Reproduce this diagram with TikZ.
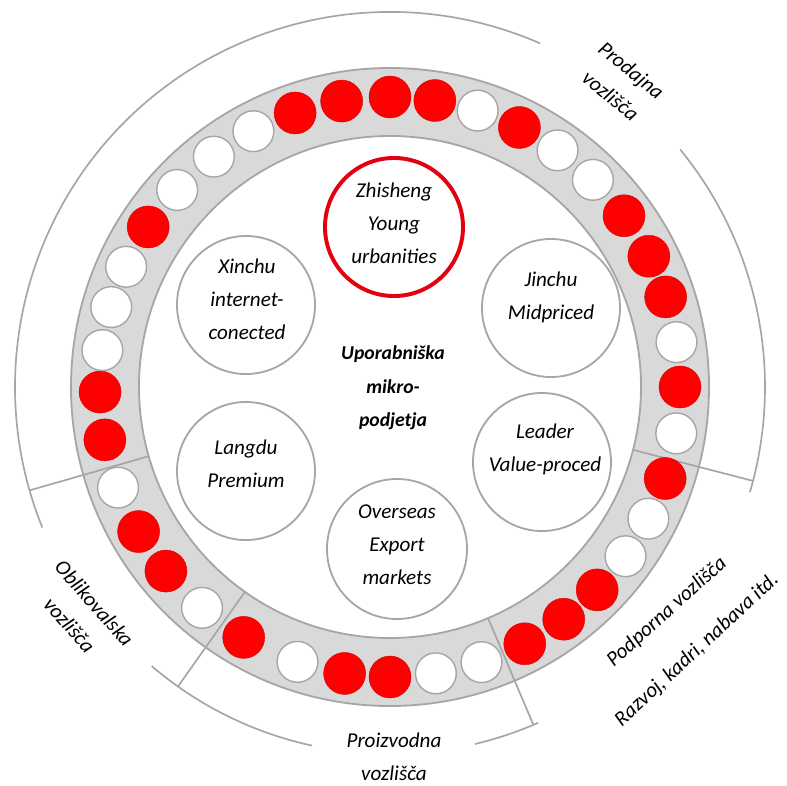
\documentclass[tikz,border=0pt]{standalone}
\usepackage{fontspec}
\setmainfont{Carlito}
\definecolor{ringfill}{HTML}{D9D9D9}
\definecolor{ringline}{HTML}{A6A6A6}
\definecolor{dotred}{HTML}{FF0000}
\definecolor{unitred}{HTML}{E3000F}
\newcommand{\hand}{\itshape\fontsize{15}{23.5}\selectfont}

\begin{document}
\begin{tikzpicture}[x=0.025cm,y=0.025cm,
   seg/.style={draw=ringline,line width=1.2pt},
   unit/.style={circle,draw=ringline,line width=1.3pt,minimum size=3.45cm,inner sep=0pt},
   dotr/.style={circle,fill=dotred,draw=dotred!85!black,line width=0.3pt,minimum size=1.05cm,inner sep=0pt},
   dotw/.style={circle,fill=white,draw=ringline,line width=1pt,minimum size=1.02cm,inner sep=0pt},
   lbl/.style={align=center,font=\hand}]
   \def\ri{251} \def\ro{319} \def\rd{290} \def\ra{375} \def\rb{367}
   \useasboundingbox (-390,-398) rectangle (397,387);
   \filldraw[fill=ringfill,draw=ringline,line width=1.3pt,even odd rule]
    (0,0) circle (\ro) (0,0) circle (\ri);
   \draw[seg] (66.4:\ra) arc (66.4:202:\ra);
   \draw[seg] (39.3:\ra) arc (39.3:-16.3:\ra);
   \draw[seg] (-130.5:\rb) arc (-130.5:-102.3:\rb);
   \draw[seg] (-76.6:\rb) arc (-76.6:-66.2:\rb);
   \foreach \a/\r in {-14.5/\ra,-164/\ra,-67/\rb,-125.3/\rb}
     \draw[seg] (\a:\ri) -- (\a:\r);
   \foreach \a [count=\i] in {90,81.1,63.5,36.2,26.8,18.1,0,-18.4,-44.4,-53.2,-62.3,
      -90,-99,-120.3,-140.6,-150.1,-169.5,-179,146.5,109.1,99.6}
     \node[dotr] (red\i) at (\a:\rd) {};
   \foreach \a [count=\i] in {72.4,54.7,45.6,8.9,-9.2,-27,-35.7,-71.6,-80.9,-108.6,
      -130.4,-159.7,172.7,164,155.5,137.2,127.4,118.1}
     \node[dotw] (white\i) at (\a:\rd) {};
   \node[unit,draw=unitred,line width=2.8pt] (zhisheng) at (4,160) {};
   \node[unit] (xinchu) at (-144,82) {};
   \node[unit] (jinchu) at (161,79) {};
   \node[unit] (langdu) at (-144,-84) {};
   \node[unit] (leader) at (152,-75) {};
   \node[unit,minimum size=3.5cm] (overseas) at (7,-162) {};
   \node[lbl] (zhishengtxt) at (4,164) {Zhisheng\\Young\\urbanities};
   \node[lbl] (xinchutxt) at (-143,88) {Xinchu\\internet-\\conected};
   \node[lbl] (jinchutxt) at (161,90) {Jinchu\\Midpriced};
   \node[lbl] (langdutxt) at (-144,-77) {Langdu\\Premium};
   \node[lbl] (leadertxt) at (155,-62) {Leader\\Value-proced};
   \node[lbl] (overseastxt) at (7,-158) {Overseas\\Export\\markets};
   \node[lbl,font=\bfseries\itshape\fontsize{14}{23.8}\selectfont] (core) at (3,-1)
    {Uporabniška\\mikro-\\podjetja};
   \node[lbl,rotate=-39] (prodajna) at (231,304) {Prodajna\\vozlišča};
   \node[lbl,rotate=-48.5] (oblikovalska) at (-308,-227) {Oblikovalska\\vozlišča};
   \node[lbl] (proizvodna) at (4,-370) {Proizvodna\\vozlišča};
   \node[lbl,rotate=42] (podporna) at (277,-225) {Podporna vozlišča};
   \node[lbl,rotate=42.8] (razvoj) at (307,-263) {Razvoj, kadri, nabava itd.};
  \end{tikzpicture}
\end{document}
